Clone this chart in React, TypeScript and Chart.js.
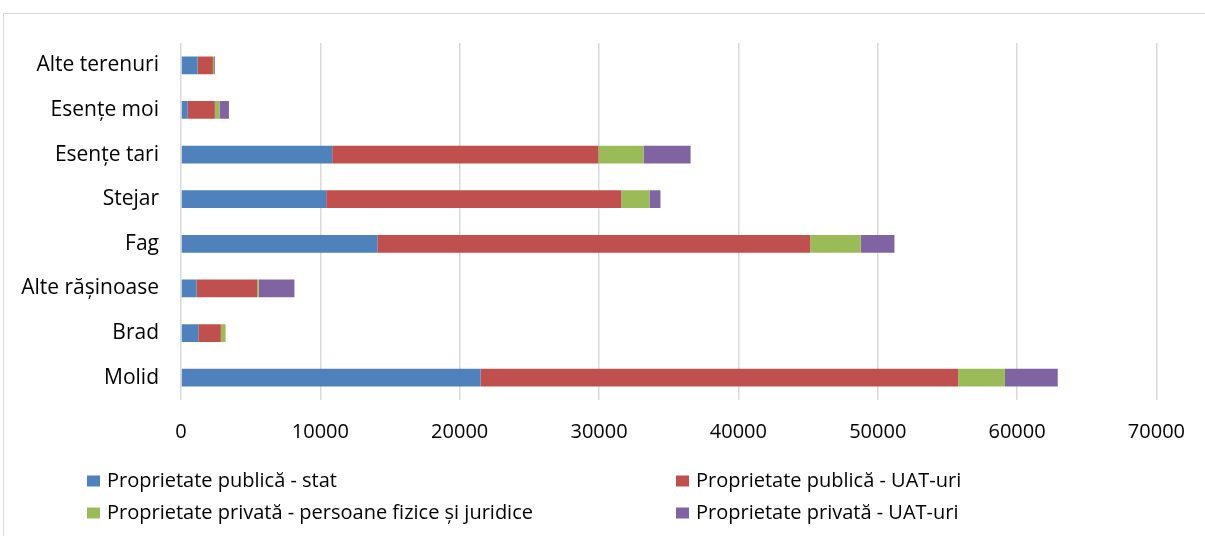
import React, { useEffect, useRef } from "react";
import { Chart, registerables } from "chart.js";

Chart.register(...registerables);

const categories = [
  "Alte terenuri",
  "Esențe moi",
  "Esențe tari",
  "Stejar",
  "Fag",
  "Alte rășinoase",
  "Brad",
  "Molid",
];

const publicStat = [1190, 480, 10850, 10420, 14090, 1120, 1240, 21500];
const publicUat = [1100, 1950, 19100, 21180, 31060, 4340, 1620, 34270];
const privatePersons = [80, 330, 3240, 2020, 3630, 120, 340, 3360];
const privateUat = [60, 680, 3380, 790, 2420, 2560, 0, 3790];

const seriesNames = [
  "Proprietate publică - stat",
  "Proprietate publică - UAT-uri",
  "Proprietate privată - persoane fizice și juridice",
  "Proprietate privată - UAT-uri",
];
const seriesColors = ["#4f81bd", "#c0504d", "#9bbb59", "#8064a2"];

const xTicks = [0, 10000, 20000, 30000, 40000, 50000, 60000, 70000];

const FONT = "'Open Sans', 'DejaVu Sans', sans-serif";

const legendPlugin = {
  id: "gridLegend",
  afterDraw(chart: any) {
    const ctx = chart.ctx;
    const cols = [87, 676];
    const rows = [481, 513];
    ctx.save();
    ctx.font = `20px ${FONT}`;
    ctx.textBaseline = "middle";
    ctx.textAlign = "left";
    chart.data.datasets.forEach((ds: any, i: number) => {
      const x = cols[i % 2];
      const y = rows[Math.floor(i / 2)];
      ctx.fillStyle = ds.backgroundColor;
      ctx.fillRect(x, y - 5.5, 13, 11);
      ctx.fillStyle = "#000";
      ctx.fillText(ds.label, x + 20, y);
    });
    ctx.restore();
  },
};

export default function App() {
  const ref = useRef<HTMLCanvasElement | null>(null);

  useEffect(() => {
    if (!ref.current) return;
    const values = [publicStat, publicUat, privatePersons, privateUat];
    const chart = new Chart(ref.current, {
      type: "bar",
      data: {
        labels: categories,
        datasets: values.map((v, i) => ({
          label: seriesNames[i],
          data: v,
          backgroundColor: seriesColors[i],
          borderWidth: 0,
          categoryPercentage: 1,
          barPercentage: 0.4,
        })),
      },
      options: {
        indexAxis: "y",
        animation: false,
        responsive: false,
        maintainAspectRatio: false,
        layout: { padding: { left: 0, top: 43, right: 47, bottom: 90 } },
        plugins: {
          legend: { display: false },
          tooltip: { enabled: false },
        },
        scales: {
          x: {
            stacked: true,
            min: 0,
            max: 70000,
            afterFit: (scale: any) => {
              scale.height = 46;
            },
            afterBuildTicks: (scale: any) => {
              scale.ticks = xTicks.map((v) => ({ value: v }));
            },
            ticks: {
              color: "#000",
              font: { family: FONT, size: 20 },
              padding: 20,
              maxRotation: 0,
              callback: (v: any) => String(v),
            },
            grid: {
              color: "#d9d9d9",
              lineWidth: 1.5,
              drawTicks: false,
            },
            border: { display: false },
          },
          y: {
            stacked: true,
            afterFit: (scale: any) => {
              scale.width = 181;
            },
            ticks: {
              color: "#000",
              font: { family: FONT, size: 21 },
              padding: 22,
            },
            grid: { display: false, drawTicks: false },
            border: { display: false },
          },
        },
      },
      plugins: [legendPlugin],
    });
    return () => chart.destroy();
  }, []);

  return (
    <div
      style={{
        position: "absolute",
        left: 0,
        top: 0,
        width: 1205,
        height: 536,
        overflow: "hidden",
        background: "#fff",
      }}
    >
      <div
        style={{
          position: "absolute",
          left: 3,
          top: 13,
          width: 1400,
          height: 800,
          border: "1px solid #d9d9d9",
        }}
      />
      <canvas
        ref={ref}
        width={1205}
        height={536}
        style={{ position: "absolute", left: 0, top: 0, width: 1205, height: 536 }}
      />
    </div>
  );
}
